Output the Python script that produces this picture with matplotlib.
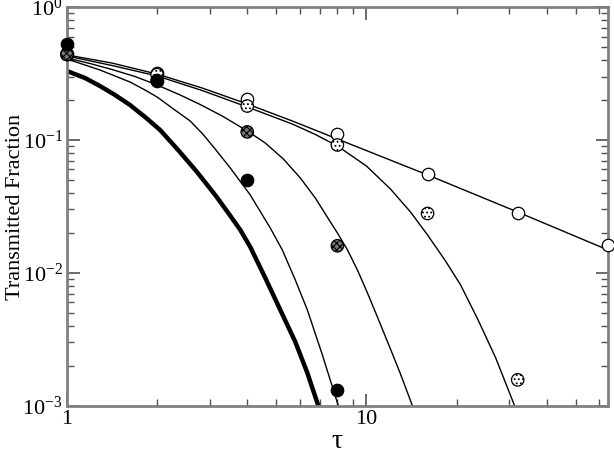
import matplotlib.pyplot as plt
from matplotlib import font_manager as fm
import numpy as np

installed = {f.name for f in fm.fontManager.ttflist}
serif = [n for n in ['Liberation Serif', 'Times New Roman', 'Nimbus Roman', 'Tinos', 'STIXGeneral']
         if n in installed]
plt.rcParams['font.family'] = serif + ['DejaVu Serif']
plt.rcParams['mathtext.fontset'] = 'custom'
plt.rcParams['mathtext.rm'] = serif[0]
plt.rcParams['mathtext.it'] = serif[0] + ':italic'
plt.rcParams['hatch.linewidth'] = 0.8

# model curves
tau_a = [1, 1.414, 2, 2.828, 4, 5.656, 8, 16, 32, 64]
frac_a = [0.436, 0.379, 0.313, 0.246, 0.1866, 0.139, 0.1017, 0.0546, 0.0287, 0.0149]

tau_b = [1, 1.414, 2, 2.828, 4, 5.656, 6.751, 8, 10.0, 12.03, 14.04, 16, 18.37,
         20.63, 23.51, 27.01, 31.26]
frac_b = [0.4281, 0.3633, 0.303, 0.2356, 0.1771, 0.1319, 0.110, 0.0901, 0.0637, 0.0428,
          0.0287, 0.0193, 0.0123, 0.00812, 0.00451, 0.0023, 0.001]

tau_c = [1, 1.194, 1.414, 1.688, 2, 2.388, 2.785, 3.299, 4, 4.594, 5.278, 6.016, 6.751,
         7.578, 8, 8.642, 9.331, 10.08, 10.88, 12.03, 12.99, 14.25]
frac_c = [0.4136, 0.376, 0.3389, 0.3002, 0.2592, 0.218, 0.1849, 0.1515, 0.1169, 0.0949,
          0.072, 0.0518, 0.0366, 0.0242, 0.020, 0.0149, 0.01053, 0.00707, 0.00467, 0.00268,
          0.00174, 0.001]

tau_d = [1, 1.149, 1.289, 1.447, 1.624, 1.823, 2, 2.245, 2.579, 2.85, 3.126, 3.51, 4.093,
         4.774, 5.237, 5.788, 6.35, 7.126, 8.061]
frac_d = [0.4064, 0.3665, 0.336, 0.303, 0.2729, 0.2376, 0.2105, 0.174, 0.139, 0.110,
          0.0855, 0.0616, 0.0386, 0.0218, 0.0149, 0.00886, 0.00527, 0.00242, 0.001]

tau_e = [1, 1.149, 1.289, 1.447, 1.624, 1.823, 2.047, 2.351, 2.7, 3.126, 3.456, 3.79,
         4.093, 4.594, 5.157, 5.788, 6.35, 6.911]
frac_e = [0.3302, 0.2925, 0.2547, 0.218, 0.1833, 0.1489, 0.1189, 0.0841, 0.0585, 0.0386,
          0.0283, 0.0211, 0.0157, 0.00918, 0.00527, 0.00303, 0.00177, 0.001]

# simulation points
open_tau = [1, 2, 4, 8, 16, 32, 64]
open_frac = [0.44, 0.319, 0.203, 0.111, 0.0555, 0.028, 0.0162]

dot_tau = [1, 2, 4, 8, 16, 32]
dot_frac = [0.44, 0.31, 0.18, 0.0917, 0.028, 0.00157]

hatch_tau = [1, 2, 4, 8]
hatch_frac = [0.44, 0.28, 0.115, 0.016]

fill_tau = [1, 2, 4, 8]
fill_frac = [0.527, 0.278, 0.050, 0.00132]

fig = plt.figure(figsize=(6.14, 4.53), dpi=100)
ax = fig.add_axes([0.109, 0.104, 0.881, 0.8805])

ax.plot(tau_a, frac_a, color='black', lw=1.0)
ax.plot(tau_b, frac_b, color='black', lw=1.0)
ax.plot(tau_c, frac_c, color='black', lw=1.0)
ax.plot(tau_d, frac_d, color='black', lw=1.0)
ax.plot(tau_e, frac_e, color='black', lw=3.2, solid_capstyle='butt')

ms = 80
ax.scatter(open_tau, open_frac, s=ms, facecolor='white', edgecolor='black', lw=0.9, zorder=3, clip_on=False)
ax.scatter(dot_tau, dot_frac, s=ms, facecolor='white', edgecolor='black', hatch='....', lw=0.9, zorder=4, clip_on=False)
ax.scatter(hatch_tau, hatch_frac, s=ms, facecolor='#777777', edgecolor='black', hatch='xxxxx', lw=0.9, zorder=5, clip_on=False)
ax.scatter(fill_tau, fill_frac, s=ms, facecolor='black', edgecolor='black', lw=0.9, zorder=6, clip_on=False)

ax.set_xscale('log')
ax.set_yscale('log')
ax.set_xlim(1, 64)
ax.set_ylim(1e-3, 1)

ax.set_xticks([1, 10])
ax.set_xticklabels(['1', '10'])
ax.set_yticks([1e-3, 1e-2, 1e-1, 1])
ax.set_yticklabels([r'$\mathregular{10^{-3}}$', r'$\mathregular{10^{-2}}$',
                    r'$\mathregular{10^{-1}}$', r'$\mathregular{10^{0}}$'])

for s in ax.spines.values():
    s.set_color('#808080')
    s.set_linewidth(2)
ax.tick_params(which='both', direction='in', top=True, right=True, color='#505050')
ax.tick_params(which='major', length=9, width=1.2, labelsize=16, pad=3)
ax.tick_params(which='minor', length=5, width=1.0)

ax.set_xlabel('τ', fontsize=20, labelpad=0)
ax.set_ylabel('Transmitted Fraction', fontsize=16)
ax.yaxis.set_label_coords(-0.077, 0.5)

fig.savefig('out.png', dpi=100)
